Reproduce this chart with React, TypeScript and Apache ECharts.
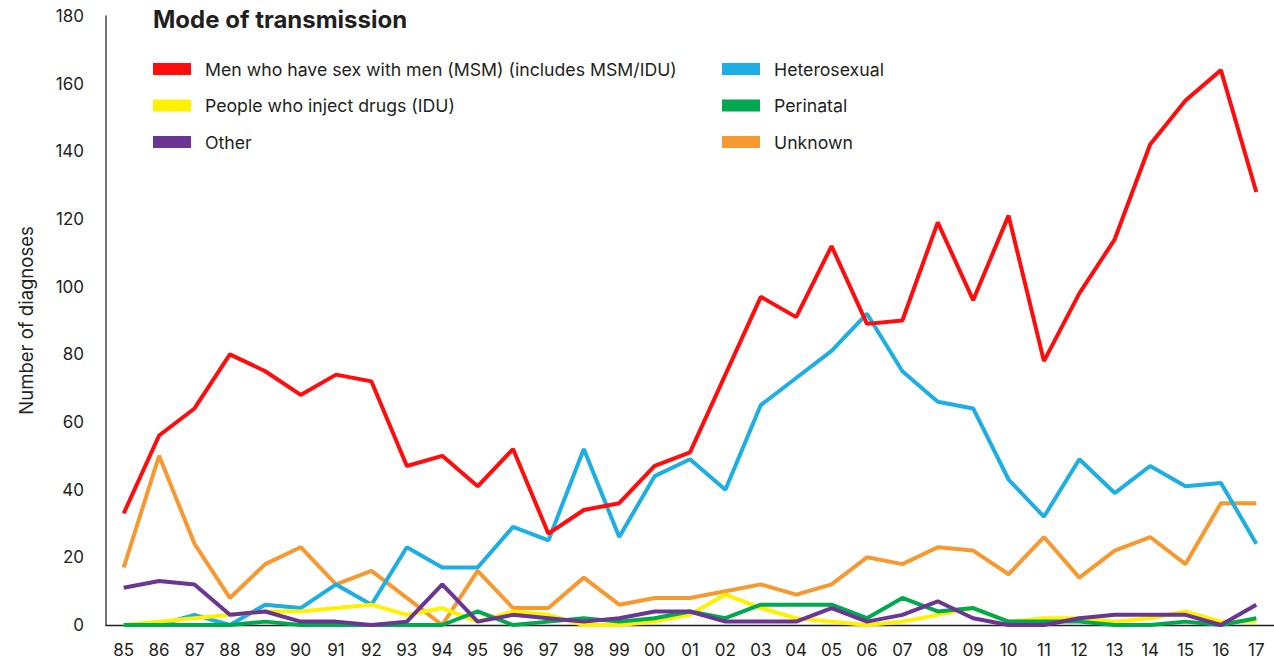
import React, { useEffect, useRef } from "react";
import * as echarts from "echarts";

const years = ["85","86","87","88","89","90","91","92","93","94","95","96","97","98","99","00","01","02","03","04","05","06","07","08","09","10","11","12","13","14","15","16","17"];

const msm = [33,56,64,80,75,68,74,72,47,50,41,52,27,34,36,47,51,74,97,91,112,89,90,119,96,121,78,98,114,142,155,164,128];
const hetero = [0,0,3,0,6,5,12,6,23,17,17,29,25,52,26,44,49,40,65,73,81,92,75,66,64,43,32,49,39,47,41,42,24];
const unknown = [17,50,24,8,18,23,12,16,8,0,16,5,5,14,6,8,8,10,12,9,12,20,18,23,22,15,26,14,22,26,18,36,36];
const other = [11,13,12,3,4,1,1,0,1,12,1,3,2,1,2,4,4,1,1,1,5,1,3,7,2,0,0,2,3,3,3,0,6];
const perinatal = [0,0,0,0,1,0,0,0,0,0,4,0,1,2,1,2,4,2,6,6,6,2,8,4,5,1,1,1,0,0,1,0,2];
const idu = [0,1,2,3,4,4,5,6,3,5,1,4,3,0,0,1,3,9,5,2,1,0,1,3,5,1,2,2,1,2,4,1,1];

const yTicks = { min: 0, max: 180, interval: 20 };

const NAMES = {
  msm: "Men who have sex with men (MSM) (includes MSM/IDU)",
  idu: "People who inject drugs (IDU)",
  other: "Other",
  hetero: "Heterosexual",
  perinatal: "Perinatal",
  unknown: "Unknown",
};

const COLORS = {
  msm: "#ff0d0d",
  idu: "#fff200",
  other: "#6b3593",
  hetero: "#1daee4",
  perinatal: "#00a94f",
  unknown: "#f7992f",
};

const FONT = "Inter, Roboto, 'Noto Sans', sans-serif";
const TEXT = "#231f20";

export default function App() {
  const ref = useRef<HTMLDivElement>(null);
  useEffect(() => {
    if (!ref.current) return;
    const chart = echarts.init(ref.current, undefined, { renderer: "svg" });
    const line = (key: keyof typeof NAMES, data: number[]) => ({
      name: NAMES[key],
      type: "line",
      data,
      symbol: "none",
      color: COLORS[key],
      lineStyle: { width: 4, color: COLORS[key] },
      itemStyle: { color: COLORS[key] },
    });
    const legendBase = {
      orient: "vertical",
      top: 59,
      padding: 0,
      itemWidth: 38,
      itemHeight: 12,
      itemGap: 16.5,
      icon: "rect",
      selectedMode: false,
      textStyle: {
        fontFamily: FONT,
        fontSize: 17.7,
        color: TEXT,
        lineHeight: 20,
        padding: [0, 0, 0, 9],
      },
    };
    chart.setOption({
      animation: false,
      title: {
        text: "Mode of transmission",
        left: 153,
        top: 7,
        padding: 0,
        textStyle: { fontFamily: FONT, fontSize: 24, fontWeight: "bold", color: TEXT },
      },
      legend: [
        { ...legendBase, left: 153, data: [NAMES.msm, NAMES.idu, NAMES.other] },
        { ...legendBase, left: 722, data: [NAMES.hetero, NAMES.perinatal, NAMES.unknown] },
      ],
      grid: { left: 106, top: 16, width: 1172.5, height: 609, containLabel: false },
      xAxis: {
        type: "category",
        data: years,
        boundaryGap: true,
        axisLine: { lineStyle: { color: TEXT, width: 1.3 } },
        axisTick: { show: false },
        axisLabel: { fontFamily: FONT, fontSize: 17, color: TEXT, margin: 16 },
      },
      yAxis: {
        type: "value",
        min: yTicks.min,
        max: yTicks.max,
        interval: yTicks.interval,
        name: "Number of diagnoses",
        nameLocation: "middle",
        nameGap: 71,
        nameTextStyle: { fontFamily: FONT, fontSize: 18.5, color: TEXT },
        axisLine: { show: true, lineStyle: { color: "#444", width: 1.5 } },
        axisTick: { show: false },
        splitLine: { show: false },
        axisLabel: { fontFamily: FONT, fontSize: 17, color: TEXT, margin: 22 },
      },
      series: [
        line("unknown", unknown),
        line("hetero", hetero),
        line("idu", idu),
        line("perinatal", perinatal),
        line("other", other),
        line("msm", msm),
      ],
    });
    return () => chart.dispose();
  }, []);
  return (
    <div
      ref={ref}
      style={{ position: "absolute", left: 0, top: 0, width: 1274, height: 661, background: "#fff" }}
    />
  );
}
